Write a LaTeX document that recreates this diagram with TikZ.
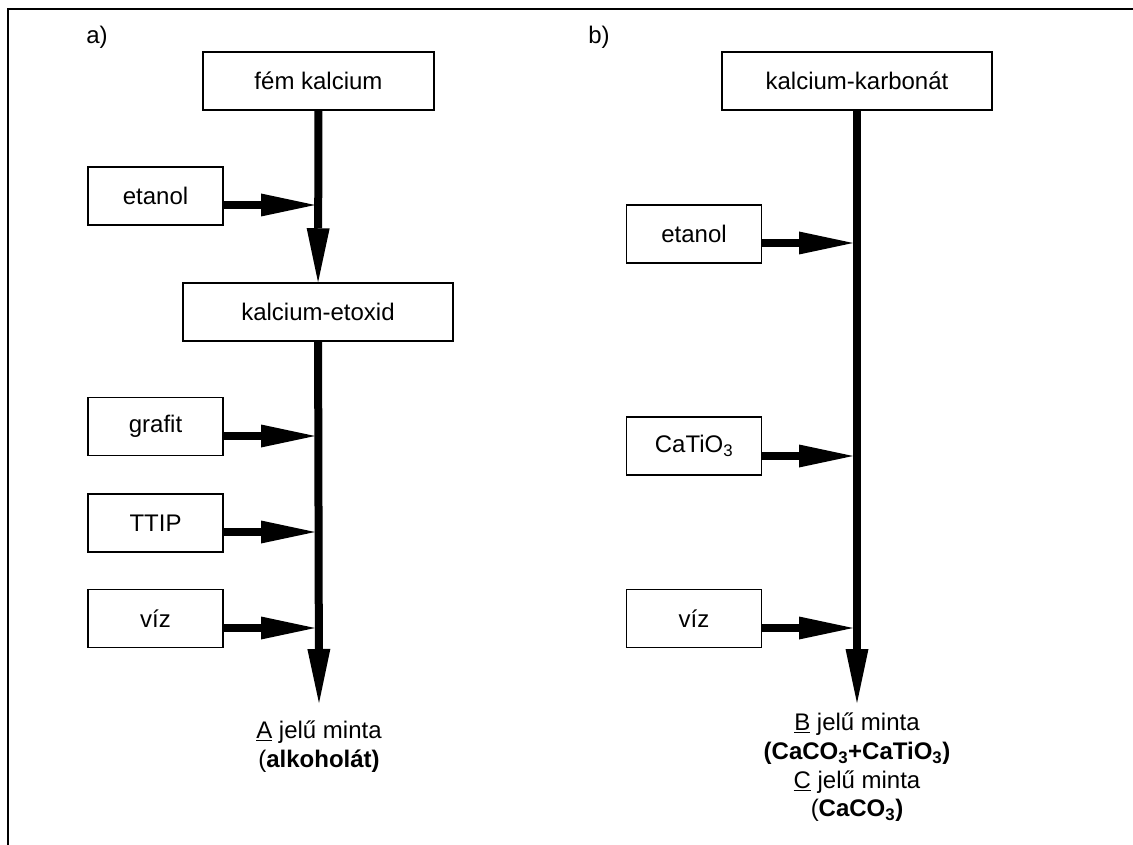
\documentclass[tikz,border=0pt]{standalone}
\usepackage{fontspec}
\setmainfont{Liberation Sans}
\usetikzlibrary{arrows.meta}

\tikzset{
  txt/.style={font=\fontsize{24}{28.7}\selectfont, inner sep=0pt},
  box/.style={txt, draw, line width=1.5pt, fill=white, minimum height=58pt},
  feed/.style={box, minimum width=135pt},
  flow/.style={line width=8pt, -{Triangle[length=54pt,width=23pt,line width=0pt]}},
}

\begin{document}
\begin{tikzpicture}[x=1pt, y=-1pt]
    \useasboundingbox (0,0) rectangle (1133,845);
    \draw [line width=2pt] (8,845) -- (8,9) -- (1133,9);

    % a) ag
    \node [txt] (titA) at (97,37) {a)};
    \node [box, minimum width=231pt] (kalcium) at (318.5,81) {fém kalcium};
    \node [box, minimum width=270pt] (etoxid) at (318,312) {kalcium-etoxid};
    \node [feed] (etanolA) at (155.5,196) {etanol};
    \node [feed] (grafit) at (155.5,426.5) {grafit};
    \node [feed] (ttip) at (155.5,523) {TTIP};
    \node [feed] (vizA) at (155.5,618.5) {víz};
    \coordinate (endA) at (319,703);
    \coordinate (jA1) at (315,205);
    \coordinate (jA2) at (315,436);
    \coordinate (jA3) at (315,532);
    \coordinate (jA4) at (315,628);
    \draw [flow] (kalcium) -- (etoxid);
    \draw [flow] (etoxid) -- (endA);
    \draw [flow] (etanolA.east |- jA1) -- (jA1);
    \draw [flow] (grafit.east |- jA2) -- (jA2);
    \draw [flow] (ttip.east |- jA3) -- (jA3);
    \draw [flow] (vizA.east |- jA4) -- (jA4);
    \node [txt, align=center, anchor=north] (mintaA) at (319,721)
        {\underline{A} jelű minta\\(\textbf{alkoholát)}};

    % b) ag
    \node [txt] (titB) at (599,37) {b)};
    \node [box, minimum width=270pt] (karbonat) at (857,81) {kalcium-karbonát};
    \node [feed] (etanolB) at (694,234) {etanol};
    \node [feed] (catio) at (694,446) {CaTiO\textsubscript{3}};
    \node [feed] (vizB) at (694,618.5) {víz};
    \coordinate (endB) at (857,703);
    \coordinate (jB1) at (853,243);
    \coordinate (jB2) at (853,456);
    \coordinate (jB3) at (853,628);
    \draw [flow] (karbonat) -- (endB);
    \draw [flow] (etanolB.east |- jB1) -- (jB1);
    \draw [flow] (catio.east |- jB2) -- (jB2);
    \draw [flow] (vizB.east |- jB3) -- (jB3);
    \node [txt, align=center, anchor=north] (mintaB) at (857,713)
        {\underline{B} jelű minta\\\textbf{(CaCO\textsubscript{3}+CaTiO\textsubscript{3})}\\
         \underline{C} jelű minta\\(\textbf{CaCO\textsubscript{3})}};
\end{tikzpicture}
\end{document}
